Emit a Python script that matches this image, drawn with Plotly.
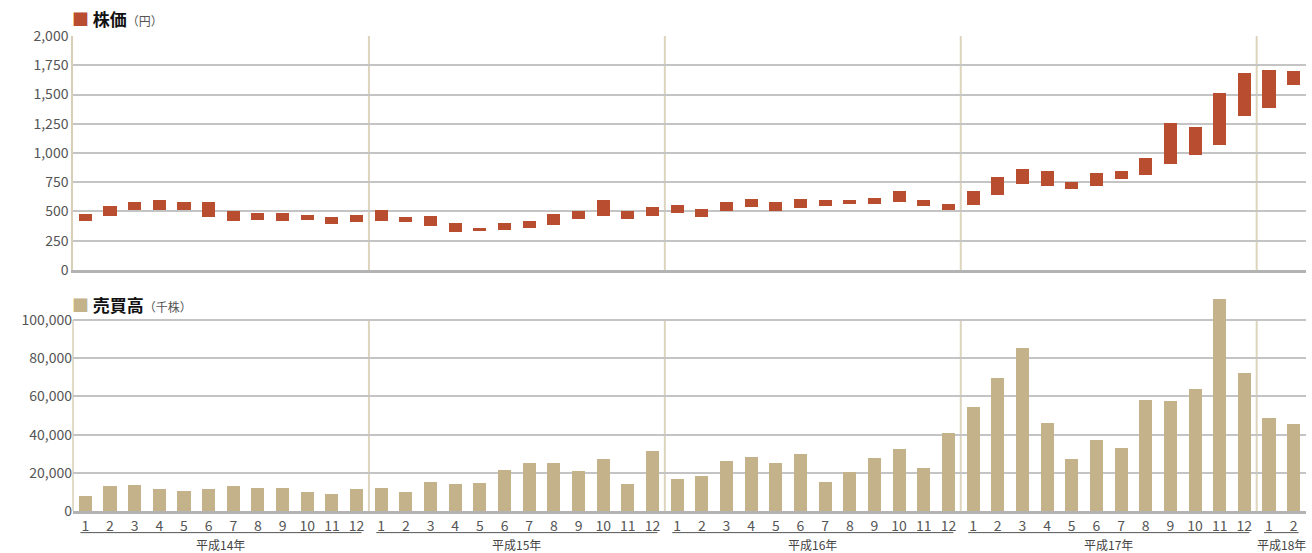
import plotly.graph_objects as go
from plotly.subplots import make_subplots

# 平成14年1月 〜 平成18年2月
years = ["平成14年", "平成15年", "平成16年", "平成17年", "平成18年"]
months_per_year = [12, 12, 12, 12, 2]
month_labels = [str(m) for n in months_per_year for m in range(1, n + 1)]

price_high = [
    479, 551, 577, 594, 577, 577, 500, 491, 491, 474, 457, 474,
    517, 457, 465, 405, 362, 405, 422, 482, 508, 594, 508, 542,
    559, 525, 585, 611, 585, 611, 594, 602, 619, 679, 602, 568,
    671, 799, 859, 842, 756, 833, 850, 953, 1253, 1219, 1510, 1681,
    1707, 1698,
]
price_low = [
    422, 465, 517, 517, 517, 457, 422, 431, 422, 431, 397, 414,
    422, 414, 380, 328, 337, 345, 362, 388, 440, 465, 440, 465,
    491, 457, 508, 542, 500, 534, 551, 560, 560, 577, 551, 517,
    559, 645, 739, 714, 688, 722, 782, 808, 902, 979, 1065, 1313,
    1381, 1578,
]
volume = [
    7690, 12935, 13460, 11362, 10313, 11362, 12935, 11886, 11886, 9789, 8740, 11362,
    11886, 9789, 15033, 13984, 14508, 21326, 24996, 24996, 20801, 27094, 13984, 31289,
    16606, 18179, 26045, 28143, 24996, 29716, 15033, 20277, 27618, 32338, 22374, 40729,
    54363, 69570, 85302, 45973, 27094, 37058, 32862, 58034, 57510, 63802, 110998, 72192,
    48594, 45448,
]

RED = "#b94d2f"
TAN = "#c4b38a"
FONT = "Noto Sans CJK JP"
VOL_TOP = 100000   # last gridline of the volume panel
VOL_ROOM = 112000  # the 11月 bar pokes above the panel

x = list(range(len(month_labels)))
span = [h - l for h, l in zip(price_high, price_low)]

fig = make_subplots(rows=2, cols=1)

fig.add_trace(
    go.Bar(x=x, y=span, base=price_low, marker_color=RED, width=0.53,
           marker_line_width=0, showlegend=False, hoverinfo="skip"),
    row=1, col=1,
)
fig.add_trace(
    go.Bar(x=x, y=volume, marker_color=TAN, width=0.53,
           marker_line_width=0, showlegend=False, hoverinfo="skip"),
    row=2, col=1,
)

axis_common = dict(
    range=[-0.5, len(x) - 0.5],
    showgrid=False,
    zeroline=False,
    showline=True,
    linecolor="#b3b3b3",
    linewidth=3,
    ticks="",
)
yaxis_common = dict(
    showgrid=True,
    gridcolor="#c4c4c4",
    gridwidth=1.5,
    zeroline=False,
    tickformat=",",
    tickfont=dict(family=FONT, size=14, color="#555555"),
    ticks="",
)

fig.update_layout(
    width=1312,
    height=553,
    margin=dict(l=73, r=6, t=36, b=42),
    paper_bgcolor="white",
    plot_bgcolor="white",
    bargap=0,
    xaxis=dict(axis_common, domain=[0, 1], showticklabels=False),
    xaxis2=dict(
        axis_common,
        domain=[0, 1],
        tickvals=x,
        ticktext=month_labels,
        tickfont=dict(family=FONT, size=14, color="#555555"),
    ),
    yaxis=dict(yaxis_common, domain=[0.5074, 1], range=[0, 2000], dtick=250,
               showline=True, linecolor="#d8cfb6", linewidth=1.5),
    yaxis2=dict(yaxis_common, domain=[0, 0.4021 * VOL_ROOM / VOL_TOP],
                range=[0, VOL_ROOM], tickvals=list(range(0, VOL_TOP + 1, 20000)),
                showline=False),
)

# left axis line of the volume panel, stopping at its top gridline
fig.add_shape(type="line", xref="x2 domain", yref="y2", x0=0, x1=0, y0=0, y1=VOL_TOP,
              line=dict(color="#d8cfb6", width=1.5), layer="below")

# year separators and year labels
start = 0
for i, (yr, n) in enumerate(zip(years, months_per_year)):
    end = start + n - 1
    if i > 0:
        fig.add_shape(type="line", xref="x", yref="y domain",
                      x0=start - 0.5, x1=start - 0.5, y0=0, y1=1,
                      line=dict(color="#ddd4bd", width=2), layer="below")
        fig.add_shape(type="line", xref="x2", yref="y2",
                      x0=start - 0.5, x1=start - 0.5, y0=0, y1=VOL_TOP,
                      line=dict(color="#ddd4bd", width=2), layer="below")
    fig.add_shape(type="line", xref="x2", yref="paper",
                  x0=start - 0.2, x1=end + 0.2, y0=-0.0455, y1=-0.0455,
                  line=dict(color="#555555", width=1))
    fig.add_annotation(x=(start + end) / 2, xref="x2", y=-0.071, yref="paper",
                       text=yr, showarrow=False, yanchor="middle",
                       font=dict(family=FONT, size=12, color="#444444"))
    start = end + 1

# panel titles
fig.add_annotation(
    x=0, xref="paper", y=1.036, yref="paper", xanchor="left", yanchor="middle",
    xshift=-3, showarrow=False,
    text=f"<span style='color:{RED}'>■</span> <b>株価</b>"
         "<span style='font-size:12px;color:#555555'>（円）</span>",
    font=dict(family=FONT, size=17, color="#111111"),
)
fig.add_annotation(
    x=0, xref="paper", y=0.4337, yref="paper", xanchor="left", yanchor="middle",
    xshift=-3, showarrow=False,
    text=f"<span style='color:{TAN}'>■</span> <b>売買高</b>"
         "<span style='font-size:12px;color:#555555'>（千株）</span>",
    font=dict(family=FONT, size=17, color="#111111"),
)

fig.write_html("out.html", config={"displayModeBar": False},
               post_script="document.body.style.margin='0';")
